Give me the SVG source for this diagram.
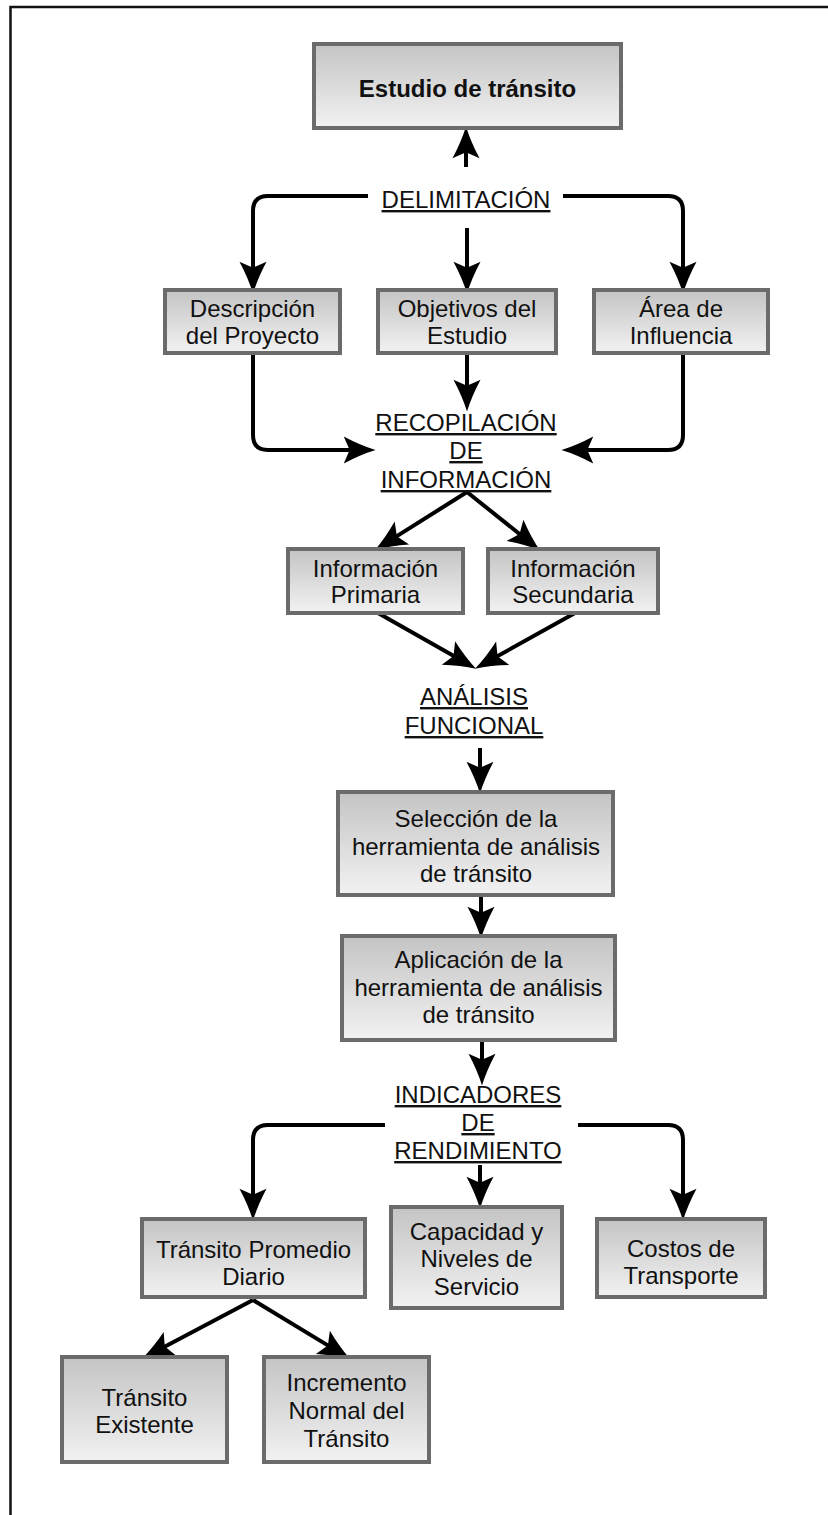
<svg xmlns="http://www.w3.org/2000/svg" width="828" height="1515" viewBox="0 0 828 1515">
<defs>
<linearGradient id="g" x1="0" y1="0" x2="0" y2="1">
<stop offset="0" stop-color="#c4c4c4"/>
<stop offset="1" stop-color="#f2f2f2"/>
</linearGradient>
<marker id="ah" markerUnits="userSpaceOnUse" markerWidth="40" markerHeight="40" viewBox="-10 -14 34 28" refX="0" refY="0" orient="auto">
<path d="M-7,-11.5 Q7,-4 20,0 Q7,4 -7,11.5 L-2,0 Z" fill="#000"/>
</marker>
</defs>
<style>
.box{fill:url(#g);stroke:#6b6b6b;stroke-width:4}
.t{font-family:"Liberation Sans",Arial,sans-serif;font-size:24px;fill:#111;text-anchor:middle}
.b{font-weight:bold}
.u{text-decoration:underline}
.c{fill:none;stroke:#000;stroke-width:4;marker-end:url(#ah)}
</style>
<rect width="828" height="1515" fill="#fff"/>
<path d="M10.5,1515 V7 H828" fill="none" stroke="#111" stroke-width="2.5"/>

<g id="connectors">
<path class="c" d="M466,167 V150"/>
<path class="c" d="M368,196 H268 Q253,196 253,211 V270"/>
<path class="c" d="M467,228 V270"/>
<path class="c" d="M563,196 H668 Q683,196 683,211 V270"/>
<path class="c" d="M253,353 V435 Q253,450 268,450 H352"/>
<path class="c" d="M683,353 V435 Q683,450 668,450 H585"/>
<path class="c" d="M467,355 V388"/>
<path class="c" d="M467,492 L394.9,537.4"/>
<path class="c" d="M467,492 L521.4,535.5"/>
<path class="c" d="M378,613 L455.6,657.1"/>
<path class="c" d="M575,613 L495.5,657.3"/>
<path class="c" d="M480,748 V770"/>
<path class="c" d="M481,895 V915"/>
<path class="c" d="M482,1040 V1062"/>
<path class="c" d="M385,1125 H268 Q253,1125 253,1140 V1197"/>
<path class="c" d="M578,1125 H668 Q683,1125 683,1140 V1197"/>
<path class="c" d="M480,1165 V1185"/>
<path class="c" d="M253,1300 L162.7,1347.7"/>
<path class="c" d="M253,1300 L329.9,1346.6"/>
</g>

<g id="estudio">
<rect class="box" x="314" y="44" width="307" height="84"/>
<text class="t b" x="467.5" y="97">Estudio de tránsito</text>
</g>
<g id="delimitacion">
<text class="t u" x="466" y="208">DELIMITACIÓN</text>
</g>
<g id="descripcion">
<rect class="box" x="165" y="290" width="175" height="63"/>
<text class="t" x="252.5" y="317">Descripción</text>
<text class="t" x="252.5" y="344">del Proyecto</text>
</g>
<g id="objetivos">
<rect class="box" x="378" y="290" width="178" height="63"/>
<text class="t" x="467" y="317">Objetivos del</text>
<text class="t" x="467" y="344">Estudio</text>
</g>
<g id="area">
<rect class="box" x="594" y="290" width="174" height="63"/>
<text class="t" x="681" y="317">Área de</text>
<text class="t" x="681" y="344">Influencia</text>
</g>
<g id="recopilacion">
<text class="t u" x="466" y="431">RECOPILACIÓN</text>
<text class="t u" x="466" y="459">DE</text>
<text class="t u" x="466" y="488">INFORMACIÓN</text>
</g>
<g id="primaria">
<rect class="box" x="288" y="549" width="175" height="64"/>
<text class="t" x="375.5" y="577">Información</text>
<text class="t" x="375.5" y="603">Primaria</text>
</g>
<g id="secundaria">
<rect class="box" x="488" y="549" width="170" height="64"/>
<text class="t" x="573" y="577">Información</text>
<text class="t" x="573" y="603">Secundaria</text>
</g>
<g id="analisis">
<text class="t u" x="474" y="705">ANÁLISIS</text>
<text class="t u" x="474" y="734">FUNCIONAL</text>
</g>
<g id="seleccion">
<rect class="box" x="338" y="792" width="275" height="103"/>
<text class="t" x="476" y="827">Selección de la</text>
<text class="t" x="476" y="855">herramienta de análisis</text>
<text class="t" x="476" y="882">de tránsito</text>
</g>
<g id="aplicacion">
<rect class="box" x="342" y="936" width="273" height="104"/>
<text class="t" x="478.5" y="968">Aplicación de la</text>
<text class="t" x="478.5" y="996">herramienta de análisis</text>
<text class="t" x="478.5" y="1023">de tránsito</text>
</g>
<g id="indicadores">
<text class="t u" x="478" y="1103">INDICADORES</text>
<text class="t u" x="478" y="1131">DE</text>
<text class="t u" x="478" y="1159">RENDIMIENTO</text>
</g>
<g id="promedio">
<rect class="box" x="142" y="1219" width="223" height="78"/>
<text class="t" x="253.5" y="1258">Tránsito Promedio</text>
<text class="t" x="253.5" y="1285">Diario</text>
</g>
<g id="capacidad">
<rect class="box" x="391" y="1207" width="171" height="101"/>
<text class="t" x="476.5" y="1240">Capacidad y</text>
<text class="t" x="476.5" y="1267">Niveles de</text>
<text class="t" x="476.5" y="1295">Servicio</text>
</g>
<g id="costos">
<rect class="box" x="597" y="1219" width="168" height="78"/>
<text class="t" x="681" y="1257">Costos de</text>
<text class="t" x="681" y="1284">Transporte</text>
</g>
<g id="existente">
<rect class="box" x="62" y="1357" width="165" height="105"/>
<text class="t" x="144.5" y="1406">Tránsito</text>
<text class="t" x="144.5" y="1433">Existente</text>
</g>
<g id="incremento">
<rect class="box" x="264" y="1357" width="165" height="105"/>
<text class="t" x="346.5" y="1391">Incremento</text>
<text class="t" x="346.5" y="1419">Normal del</text>
<text class="t" x="346.5" y="1447">Tránsito</text>
</g>
</svg>
